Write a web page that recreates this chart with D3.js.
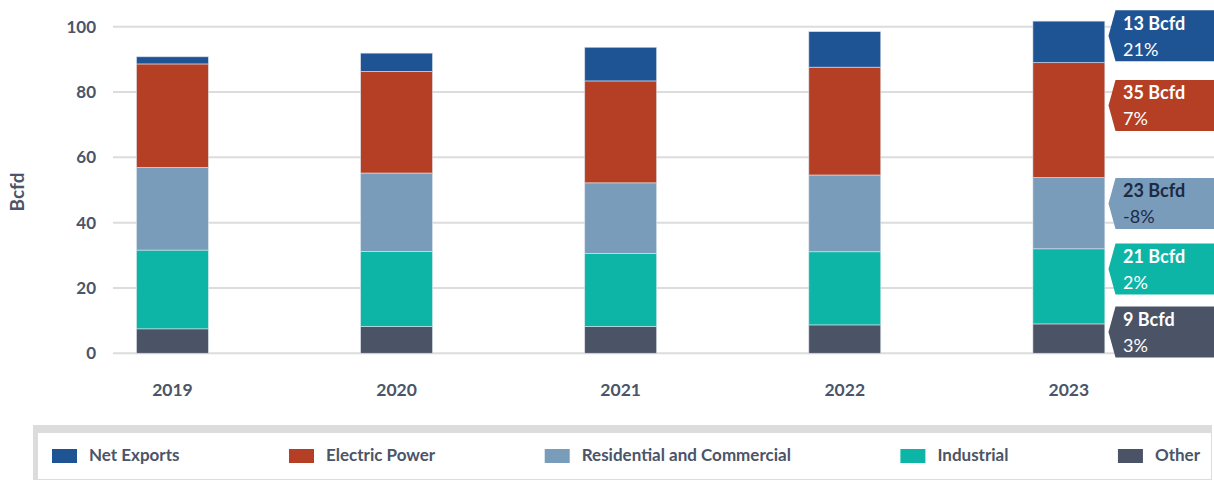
<!DOCTYPE html>
<html>
<head>
<meta charset="utf-8">
<script src="https://cdn.jsdelivr.net/npm/d3@7"></script>
<style>
  html, body { margin: 0; padding: 0; background: #fff; }
  svg { display: block; font-family: Lato, "Noto Sans", sans-serif; }
</style>
</head>
<body>
<svg id="chart" width="1214" height="481"></svg>
<script>
// years and series (stack order: bottom to top)
var years = ['2019', '2020', '2021', '2022', '2023'];
var other      = [7.5, 8.2, 8.2, 8.7, 9.0];
var industrial = [24.1, 23.0, 22.4, 22.4, 23.0];
var resCom     = [25.3, 24.0, 21.6, 23.5, 21.8];
var electric   = [31.7, 31.1, 31.2, 33.0, 35.2];
var netExports = [2.2, 5.6, 10.3, 10.9, 12.7];

var yTicks = [0, 20, 40, 60, 80, 100];

// 2023 callouts, top to bottom
var tagNames   = ['Net Exports', 'Electric Power', 'Residential and Commercial', 'Industrial', 'Other'];
var tagVolumes = ['13 Bcfd', '35 Bcfd', '23 Bcfd', '21 Bcfd', '9 Bcfd'];
var tagChanges = ['21%', '7%', '-8%', '2%', '3%'];
var tagAt      = [97.2, 75.9, 45.9, 25.8, 6.5];   // where each callout points, in Bcfd

var legendNames = ['Net Exports', 'Electric Power', 'Residential and Commercial', 'Industrial', 'Other'];

var colors = {
  'Net Exports': '#1f5494',
  'Electric Power': '#b43f25',
  'Residential and Commercial': '#7a9cbb',
  'Industrial': '#0cb5a6',
  'Other': '#4b5366'
};
var tagText = {
  'Residential and Commercial': '#1b2a45'
};
var ink = '#4b5468';

var svg = d3.select('#chart');

// build table for the stack
var keys = ['Other', 'Industrial', 'Residential and Commercial', 'Electric Power', 'Net Exports'];
var cols = [other, industrial, resCom, electric, netExports];
var table = years.map(function(yr, i) {
  var row = { year: yr };
  keys.forEach(function(k, j) { row[k] = cols[j][i]; });
  return row;
});

var x = d3.scaleBand()
  .domain(years)
  .range([60.4, 1180.9])
  .paddingInner(0.679)
  .paddingOuter(0.3395);

var y = d3.scaleLinear()
  .domain([0, 100])
  .range([353.3, 26.7]);

// gridlines
svg.append('g')
  .selectAll('line')
  .data(yTicks)
  .enter().append('line')
    .attr('x1', 113)
    .attr('x2', 1214)
    .attr('y1', function(d) { return y(d); })
    .attr('y2', function(d) { return y(d); })
    .attr('stroke', '#dcdcdc')
    .attr('stroke-width', 2);

// y axis labels
var yAxis = svg.append('g')
  .attr('transform', 'translate(96,0)')
  .call(d3.axisLeft(y).tickValues(yTicks).tickSize(0).tickPadding(0));
yAxis.select('.domain').remove();
yAxis.selectAll('text')
  .attr('fill', ink)
  .style('font-family', 'Lato, "Noto Sans", sans-serif')
  .style('font-size', '17px')
  .style('font-weight', 700);

svg.append('text')
  .attr('transform', 'translate(24,192) rotate(-90)')
  .attr('text-anchor', 'middle')
  .attr('fill', ink)
  .style('font-size', '19px')
  .style('font-weight', 700)
  .text('Bcfd');

// x axis labels
var xAxis = svg.append('g')
  .attr('transform', 'translate(0,378)')
  .call(d3.axisBottom(x).tickSize(0).tickPadding(0));
xAxis.select('.domain').remove();
xAxis.selectAll('text')
  .attr('dy', '1.0em')
  .attr('fill', ink)
  .style('font-family', 'Lato, "Noto Sans", sans-serif')
  .style('font-size', '17.5px')
  .style('font-weight', 700);

// stacked bars
var stacked = d3.stack().keys(keys)(table);
svg.append('g')
  .selectAll('g')
  .data(stacked)
  .enter().append('g')
    .attr('fill', function(s) { return colors[s.key]; })
  .selectAll('rect')
  .data(function(s) { return s; })
  .enter().append('rect')
    .attr('x', function(d) { return x(d.data.year); })
    .attr('width', x.bandwidth())
    .attr('y', function(d) { return y(d[1]); })
    .attr('height', function(d) { return y(d[0]) - y(d[1]); })
    .attr('stroke', 'rgba(225,232,240,0.7)')
    .attr('stroke-width', 0.8);

// callout tags for 2023
var tagH = 51, tagLeft = 1108.5, tagBody = 1115.5, tagRight = 1216;
var tags = svg.append('g')
  .selectAll('g')
  .data(tagNames)
  .enter().append('g')
    .attr('transform', function(d, i) { return 'translate(0,' + y(tagAt[i]) + ')'; });

tags.append('path')
  .attr('d', 'M' + tagLeft + ',0L' + tagBody + ',' + (-tagH / 2) + 'L' + tagRight + ',' + (-tagH / 2) +
             'L' + tagRight + ',' + (tagH / 2) + 'L' + tagBody + ',' + (tagH / 2) + 'Z')
  .attr('fill', function(d) { return colors[d]; });

tags.append('text')
  .attr('x', 1123)
  .attr('y', -6)
  .attr('fill', function(d) { return tagText[d] || '#fff'; })
  .style('font-size', '18px')
  .style('font-weight', 700)
  .text(function(d, i) { return tagVolumes[i]; });

tags.append('text')
  .attr('x', 1123)
  .attr('y', 20)
  .attr('fill', function(d) { return tagText[d] || '#fff'; })
  .style('font-size', '18px')
  .style('font-weight', 400)
  .text(function(d, i) { return tagChanges[i]; });

// legend box
svg.append('rect')
  .attr('x', 33).attr('y', 425)
  .attr('width', 1179).attr('height', 55)
  .attr('fill', '#dcdcdc');
svg.append('rect')
  .attr('x', 38).attr('y', 433)
  .attr('width', 1173).attr('height', 46)
  .attr('fill', '#fff');

var legend = svg.append('g');
var items = legend.selectAll('g')
  .data(legendNames)
  .enter().append('g');

items.append('rect')
  .attr('y', 449)
  .attr('width', 25)
  .attr('height', 14)
  .attr('fill', function(d) { return colors[d]; });

items.append('text')
  .attr('x', 37)
  .attr('y', 461)
  .attr('fill', ink)
  .style('font-size', '17px')
  .style('font-weight', 700)
  .text(function(d) { return d; });

// spread the items between the two ends like space-between
var widths = [];
items.each(function() { widths.push(37 + d3.select(this).select('text').node().getComputedTextLength()); });
var left = 52, right = 1200;
var gap = (right - left - d3.sum(widths)) / (widths.length - 1);
var pos = left;
items.attr('transform', function(d, i) {
  var t = 'translate(' + pos + ',0)';
  pos += widths[i] + gap;
  return t;
});
</script>
</body>
</html>
